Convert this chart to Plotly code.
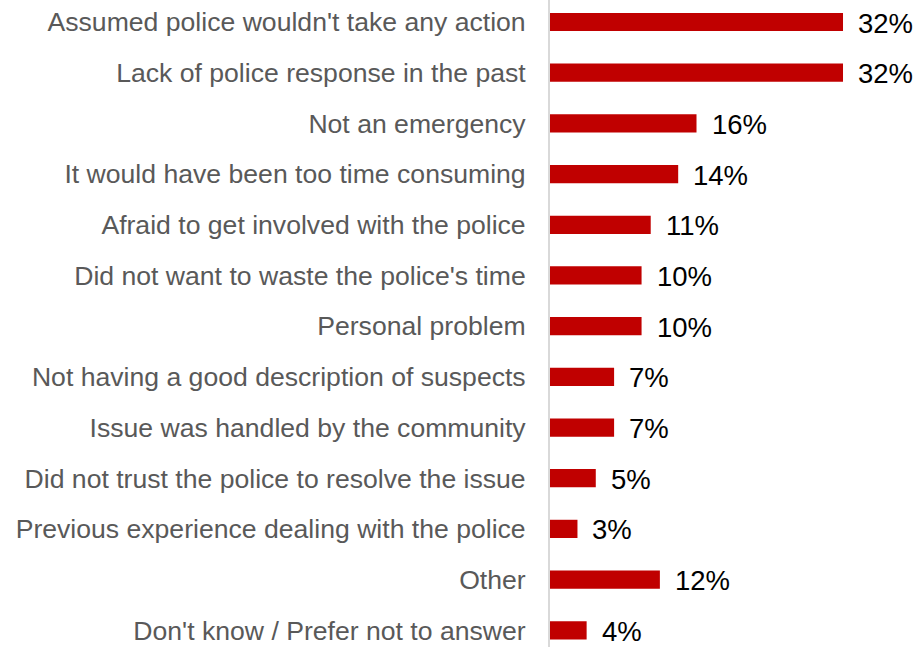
import plotly.graph_objects as go

# Reasons for not reporting to police (% of respondents)
reasons = [
    "Assumed police wouldn't take any action",
    "Lack of police response in the past",
    "Not an emergency",
    "It would have been too time consuming",
    "Afraid to get involved with the police",
    "Did not want to waste the police's time",
    "Personal problem",
    "Not having a good description of suspects",
    "Issue was handled by the community",
    "Did not trust the police to resolve the issue",
    "Previous experience dealing with the police",
    "Other",
    "Don't know / Prefer not to answer",
]
shares = [32, 32, 16, 14, 11, 10, 10, 7, 7, 5, 3, 12, 4]

BAR_RED = "#C00000"
LABEL_GREY = "#595959"
FONT = "Liberation Sans, Arial, sans-serif"

fig = go.Figure(
    go.Bar(
        x=shares,
        y=reasons,
        orientation="h",
        marker=dict(color=BAR_RED, line=dict(width=0)),
        width=0.36,
        hoverinfo="skip",
    )
)

# Value labels to the right of each bar
for r, v in zip(reasons, shares):
    fig.add_annotation(
        x=v, y=r, text=f"{v}%", showarrow=False,
        xanchor="left", yanchor="middle", xshift=13, yshift=-1,
        font=dict(family=FONT, size=27.5, color="#000000"),
    )

fig.update_layout(
    width=917, height=647,
    margin=dict(l=550, r=0, t=0, b=0),
    paper_bgcolor="white", plot_bgcolor="white",
    showlegend=False,
    font=dict(family=FONT),
    xaxis=dict(
        range=[0, 40.08], visible=False, fixedrange=True,
    ),
    yaxis=dict(
        categoryorder="array", categoryarray=reasons,
        range=[12.33, -0.434],
        showline=True, linecolor="#D9D9D9", linewidth=2,
        showgrid=False, zeroline=False, ticks="",
        ticklabelstandoff=17,
        tickfont=dict(family=FONT, size=26.6, color=LABEL_GREY),
        fixedrange=True,
    ),
)

fig.write_html("out.html")
